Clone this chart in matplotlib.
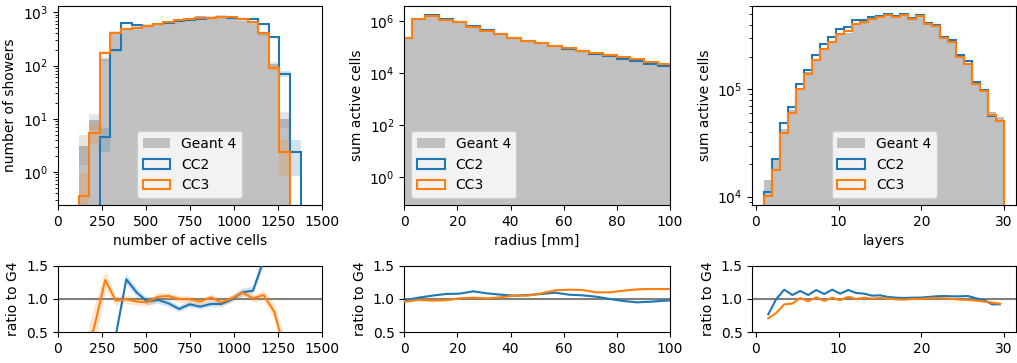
"""Shower observables: Geant 4 vs CaloClouds 2/3, with ratio panels below."""
import matplotlib
matplotlib.use("Agg")
import matplotlib.pyplot as plt
import numpy as np
from matplotlib.patches import Patch

G4_COLOR = "silver"
CC2_COLOR = "C0"
CC3_COLOR = "C1"

# --- number of active cells per shower ---
NHITS_EDGES = [120, 180, 240, 300, 360, 420, 480, 540, 600, 660, 720, 780,
               840, 900, 960, 1020, 1080, 1140, 1200, 1260, 1320, 1380]
NHITS_G4 = [3.1, 9.3, 135, 430, 490, 525, 578, 590, 655, 700, 765, 840,
            810, 850, 790, 700, 670, 385, 108, 10, 0]
NHITS_CC2 = [0, 0, 4.5, 194, 632, 570, 555, 590, 630, 690, 730, 750,
             770, 820, 790, 740, 740, 610, 345, 70, 2.4]
NHITS_CC3 = [0.35, 5.5, 175, 415, 495, 510, 550, 600, 670, 730, 760, 790,
             790, 820, 800, 760, 670, 400, 88, 2.4, 0]
NHITS_RATIO_CC2 = [0, 0, 0.033, 0.45, 1.295, 1.095, 0.96, 0.985, 0.935, 0.85, 0.92,
                   0.885, 0.925, 0.925, 0.995, 1.1, 1.125, 1.58, 3.2, 7.0, np.nan]
NHITS_RATIO_CC3 = [0.11, 0.6, 1.285, 0.975, 0.995, 0.96, 0.95, 1.035, 1.045, 1.0, 0.995,
                   0.96, 1.025, 0.95, 1.01, 1.095, 1.01, 1.06, 0.81, 0.24, np.nan]

# --- radial profile ---
RADIUS_EDGES = [-2.3, 2.8, 7.9, 13.1, 18.2, 23.4, 28.5, 33.6, 38.8, 43.9, 49.1,
                54.2, 59.3, 64.5, 69.6, 74.8, 79.9, 85.0, 90.2, 95.3, 100.5, 105.6]
RADIUS_G4 = [2.39e5, 1.21e6, 1.63e6, 1.15e6, 8.83e5, 5.90e5, 4.13e5, 3.01e5, 2.13e5,
             1.66e5, 1.30e5, 1.02e5, 8.0e4, 6.53e4, 5.48e4, 4.67e4, 3.71e4, 2.96e4,
             2.34e4, 1.95e4, 1.58e4]
RADIUS_CC2 = [2.34e5, 1.234e6, 1.71e6, 1.236e6, 9.54e5, 6.58e5, 4.48e5, 3.21e5, 2.24e5,
              1.76e5, 1.40e5, 1.12e5, 8.52e4, 6.89e4, 5.67e4, 4.67e4, 3.60e4, 2.81e4,
              2.25e4, 1.90e4, 1.56e4]
RADIUS_CC3 = [2.29e5, 1.19e6, 1.59e6, 1.127e6, 8.92e5, 6.02e5, 4.17e5, 3.09e5, 2.24e5,
              1.74e5, 1.41e5, 1.15e5, 9.12e4, 7.41e4, 6.03e4, 5.14e4, 4.17e4, 3.39e4,
              2.69e4, 2.24e4, 1.82e4]
RADIUS_RATIO_CC2 = [0.98, 1.02, 1.05, 1.075, 1.08, 1.115, 1.085, 1.065, 1.05, 1.06, 1.075,
                    1.095, 1.065, 1.055, 1.035, 1.0, 0.97, 0.95, 0.96, 0.975, 0.985]
RADIUS_RATIO_CC3 = [0.96, 0.985, 0.975, 0.98, 1.01, 1.02, 1.01, 1.025, 1.05, 1.05, 1.085,
                    1.13, 1.14, 1.135, 1.10, 1.10, 1.125, 1.145, 1.15, 1.15, 1.15]

# --- longitudinal profile (30 bins over layers 1..30) ---
LAYER_RANGE = (1, 30)
LAYER_NBINS = 30
LAYER_G4 = [14.3e3, 22.4e3, 42.9e3, 64.9e3, 100e3, 144e3, 183e3, 245e3, 269e3, 337e3,
            337e3, 406e3, 412e3, 450e3, 462e3, 491e3, 478e3, 498e3, 458e3, 485e3,
            403e3, 384e3, 296e3, 278e3, 200e3, 175e3, 115e3, 101e3, 61.1e3, 55.0e3]
LAYER_CC2 = [11.0e3, 22.4e3, 48.9e3, 68.8e3, 112e3, 153e3, 208e3, 263e3, 307e3, 364e3,
             382e3, 443e3, 445e3, 473e3, 487e3, 506e3, 488e3, 505e3, 467e3, 495e3,
             415e3, 399e3, 309e3, 289e3, 208e3, 183e3, 116e3, 99.5e3, 56.2e3, 50.6e3]
LAYER_CC3 = [10.1e3, 17.7e3, 39.5e3, 60.3e3, 101e3, 139e3, 188e3, 238e3, 274e3, 330e3,
             349e3, 406e3, 421e3, 452e3, 469e3, 493e3, 475e3, 493e3, 458e3, 485e3,
             406e3, 389e3, 299e3, 278e3, 199e3, 172e3, 112e3, 97.3e3, 57.7e3, 51.1e3]
LAYER_RATIO_CC2 = [0.77, 1.0, 1.14, 1.06, 1.12, 1.06, 1.135, 1.075, 1.14, 1.08,
                   1.135, 1.09, 1.08, 1.05, 1.055, 1.03, 1.02, 1.015, 1.02, 1.02,
                   1.03, 1.04, 1.045, 1.04, 1.04, 1.045, 1.01, 0.985, 0.92, 0.92]
LAYER_RATIO_CC3 = [0.71, 0.79, 0.92, 0.93, 1.015, 0.965, 1.025, 0.97, 1.02, 0.98,
                   1.035, 1.0, 1.02, 1.005, 1.015, 1.005, 0.995, 0.99, 1.0, 1.0,
                   1.01, 1.015, 1.01, 1.0, 0.99, 0.985, 0.975, 0.96, 0.945, 0.93]


def draw_hists(ax, edges, g4, cc2, cc3):
    edges = np.asarray(edges, dtype=float)
    ax.stairs(g4, edges, fill=True, color=G4_COLOR, linewidth=0)
    for vals, color, band_color, lw in ((g4, None, "gray", 0),
                                        (cc2, CC2_COLOR, CC2_COLOR, 1.5),
                                        (cc3, CC3_COLOR, CC3_COLOR, 1.5)):
        vals = np.asarray(vals, dtype=float)
        err = np.sqrt(vals)
        lo = np.clip(vals - err, 1e-3, None)
        hi = vals + err
        if color is not None:
            ax.stairs(vals, edges, color=color, linewidth=lw)
        ax.stairs(hi, edges, baseline=lo, fill=True, color=band_color,
                  alpha=0.2, linewidth=0)
    ax.set_yscale("log")


def draw_ratios(ax, edges, g4, cc2, cc3, r2, r3):
    edges = np.asarray(edges, dtype=float)
    centers = 0.5 * (edges[1:] + edges[:-1])
    g4 = np.asarray(g4, dtype=float)
    ax.axhline(1.0, color="gray", linewidth=1.5, zorder=1)
    for cc, ratio, color in ((cc2, r2, CC2_COLOR), (cc3, r3, CC3_COLOR)):
        cc = np.asarray(cc, dtype=float)
        ratio = np.asarray(ratio, dtype=float)
        with np.errstate(divide="ignore", invalid="ignore"):
            err = ratio * np.sqrt(1.0 / cc + 1.0 / g4)
        ax.plot(centers, ratio, color=color, linewidth=1.5, zorder=3)
        ax.fill_between(centers, ratio - err, ratio + err, color=color,
                        alpha=0.2, linewidth=0, zorder=2)
    ax.set_ylim(0.5, 1.5)
    ax.set_yticks([0.5, 1.0, 1.5])
    ax.set_ylabel("ratio to G4")


def add_legend(ax, loc):
    handles = [
        Patch(facecolor=G4_COLOR, edgecolor="none", label="Geant 4"),
        Patch(facecolor="none", edgecolor=CC2_COLOR, linewidth=1.5, label="CC2"),
        Patch(facecolor="none", edgecolor=CC3_COLOR, linewidth=1.5, label="CC3"),
    ]
    ax.legend(handles=handles, loc=loc)


def main():
    fig = plt.figure(figsize=(10.17, 3.63), dpi=100)

    lefts = [0.0567, 0.3975, 0.7397]
    widths = [0.2596, 0.2613, 0.2593]
    top_axes = [fig.add_axes([l, 0.4353, w, 0.549]) for l, w in zip(lefts, widths)]
    bot_axes = [fig.add_axes([l, 0.0846, w, 0.1835]) for l, w in zip(lefts, widths)]

    layer_edges = np.linspace(LAYER_RANGE[0], LAYER_RANGE[1], LAYER_NBINS + 1)

    # number of active cells
    ax, rax = top_axes[0], bot_axes[0]
    draw_hists(ax, NHITS_EDGES, NHITS_G4, NHITS_CC2, NHITS_CC3)
    ax.set_ylim(0.24, 1330)
    ax.set_ylabel("number of showers")
    ax.set_xlabel("number of active cells")
    add_legend(ax, "lower center")
    draw_ratios(rax, NHITS_EDGES, NHITS_G4, NHITS_CC2, NHITS_CC3,
                NHITS_RATIO_CC2, NHITS_RATIO_CC3)
    for a in (ax, rax):
        a.set_xlim(0, 1500)
        a.set_xticks(range(0, 1501, 250))

    # radial profile
    ax, rax = top_axes[1], bot_axes[1]
    draw_hists(ax, RADIUS_EDGES, RADIUS_G4, RADIUS_CC2, RADIUS_CC3)
    ax.set_ylim(0.087, 3.9e6)
    ax.set_ylabel("sum active cells")
    ax.set_xlabel("radius [mm]")
    add_legend(ax, "lower left")
    draw_ratios(rax, RADIUS_EDGES, RADIUS_G4, RADIUS_CC2, RADIUS_CC3,
                RADIUS_RATIO_CC2, RADIUS_RATIO_CC3)
    for a in (ax, rax):
        a.set_xlim(0, 100)

    # longitudinal profile
    ax, rax = top_axes[2], bot_axes[2]
    draw_hists(ax, layer_edges, LAYER_G4, LAYER_CC2, LAYER_CC3)
    ax.set_ylim(8370, 6.03e5)
    ax.set_ylabel("sum active cells")
    ax.set_xlabel("layers")
    add_legend(ax, "lower center")
    draw_ratios(rax, layer_edges, LAYER_G4, LAYER_CC2, LAYER_CC3,
                LAYER_RATIO_CC2, LAYER_RATIO_CC3)
    for a in (ax, rax):
        a.set_xlim(-0.45, 31.45)
        a.set_xticks([0, 10, 20, 30])

    fig.savefig("out.png", dpi=100)
    plt.close(fig)


if __name__ == "__main__":
    main()
